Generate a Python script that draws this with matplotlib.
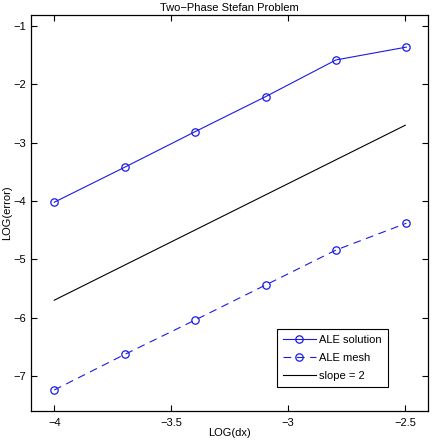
import matplotlib
matplotlib.use("Agg")
import matplotlib.pyplot as plt
import numpy as np

# log10 of grid spacing
log_dx = [-4.0, -3.699, -3.398, -3.097, -2.796, -2.495]
# log10 errors
ale_solution = [-4.02, -3.42, -2.81, -2.21, -1.58, -1.36]
ale_mesh = [-7.24, -6.63, -6.04, -5.44, -4.84, -4.38]
slope_x = [-4.0, -2.5]
slope_y = [-5.7, -2.7]

plt.rcParams['font.family'] = ['Liberation Sans', 'DejaVu Sans']
plt.rcParams['font.size'] = 8

fig = plt.figure(figsize=(4.32, 4.42), dpi=100)
ax = fig.add_axes([0.0725, 0.0701, 0.9175, 0.8959])

ax.plot(log_dx, ale_solution, '-o', color='#1a1ae6', lw=0.8, ms=5.3,
        mfc='none', mew=0.9, label='ALE solution')
ax.plot(log_dx, ale_mesh, '--o', color='#1a1ae6', lw=0.8, ms=5.3,
        mfc='none', mew=0.9, dashes=(7, 5), label='ALE mesh')
ax.plot(slope_x, slope_y, 'k-', lw=0.8, label='slope = 2')

ax.set_xlim(-4.098, -2.404)
ax.set_ylim(-7.6, -0.81)
ax.set_xticks([-4, -3.5, -3, -2.5])
ax.set_xticklabels(['\u22124', '\u22123.5', '\u22123', '\u22122.5'])
ax.set_yticks([-7, -6, -5, -4, -3, -2, -1])
ax.set_yticklabels(['\u2212%d' % k for k in [7, 6, 5, 4, 3, 2, 1]])
ax.tick_params(direction='in', top=True, right=True, length=4, width=0.8)
ax.tick_params(axis='x', pad=5)
ax.tick_params(axis='y', pad=3.5)
for s in ax.spines.values():
    s.set_linewidth(0.9)

ax.set_xlabel('LOG(dx)', labelpad=0)
ax.set_ylabel('LOG(error)', labelpad=1)
ax.set_title('Two\u2212Phase Stefan Problem', fontsize=8, pad=3)

leg = ax.legend(loc='lower right', bbox_to_anchor=(0.90, 0.061), borderaxespad=0,
                fancybox=False, edgecolor='black', framealpha=1, fontsize=8,
                handlelength=3.0, handletextpad=0.3, borderpad=0.55,
                labelspacing=0.7)
leg.get_frame().set_linewidth(0.8)

fig.savefig('out.png', dpi=100)
